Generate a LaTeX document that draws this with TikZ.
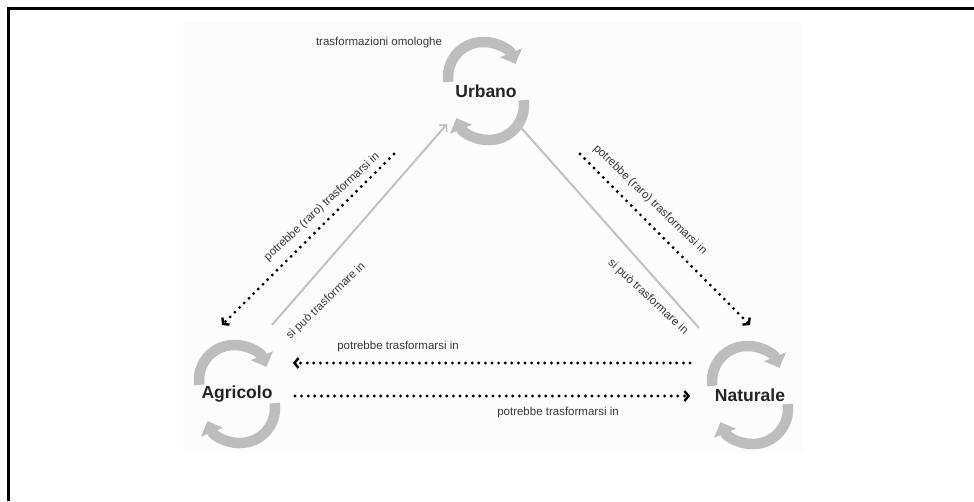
\documentclass[tikz,border=0pt]{standalone}
\usepackage{fontspec}
\setmainfont{Liberation Sans}
\usetikzlibrary{arrows.meta}
\definecolor{cyc}{HTML}{BDBDBD}
\definecolor{gline}{HTML}{C2C2C2}
\definecolor{lbltxt}{HTML}{383838}
\definecolor{nametxt}{HTML}{242424}
\definecolor{panel}{HTML}{FCFCFC}
\newcommand\cycleicon[1]{%
  \draw[cycarc] ([shift={(-3,-14)}]#1) ++(-188:35) arc[start angle=-188,end angle=-22,radius=35];
  \draw[cycarc] ([shift={(3,14)}]#1) ++(-8:35) arc[start angle=-8,end angle=158,radius=35];
}
\begin{document}
\begin{tikzpicture}[x=1pt,y=-1pt,
  place/.style={font=\fontsize{17.5}{20}\selectfont\bfseries, text=nametxt, inner sep=0pt},
  lbl/.style={font=\fontsize{11.5}{13}\selectfont, text=lbltxt, inner sep=0pt},
  dots/.style={line width=3.2pt, line cap=round, dash pattern=on 0pt off 6.6pt,
    -{Straight Barb[length=4pt,width=10pt,line width=2.4pt]}},
  greyline/.style={draw=gline, line width=2pt,
    -{Straight Barb[length=5pt,width=10pt,line width=1.6pt]}},
  cycarc/.style={draw=cyc, line width=10.5pt, -{Triangle[length=12pt,width=23pt]}}
]
\useasboundingbox (0,0) rectangle (974,501);
\fill[white] (0,0) rectangle (974,501);
\fill[panel] (183,22) rectangle (803,453);
\draw[black, line width=2.5pt] (8.5,501) -- (8.5,8.5) -- (974,8.5);

% places
\node[place] (U) at (486,91) {Urbano};
\node[place] (A) at (237,394) {Agricolo};
\node[place] (N) at (750,395) {Naturale};
\cycleicon{U.center}
\cycleicon{A.center}
\cycleicon{N.center}

\node[lbl] (omo) at (379,43) {trasformazioni omologhe};

% connector end points
\coordinate (ul1) at (394,154);
\coordinate (al1) at (222,325);
\coordinate (ag1) at (272,325);
\coordinate (ug1) at (447,124);
\coordinate (ng1) at (699,328);
\coordinate (ug2) at (516,122);
\coordinate (ur1) at (580,154);
\coordinate (nr1) at (750,325);
\coordinate (nh1) at (690,363);
\coordinate (ah1) at (293,363);
\coordinate (ah2) at (295,396);
\coordinate (nh2) at (690,396);

\draw[dots] (ul1) -- (al1);
\draw[greyline] (ag1) -- (ug1);
\draw[greyline] (ng1) -- (ug2);
\draw[dots] (ur1) -- (nr1);
\draw[dots] (nh1) -- (ah1);
\draw[dots] (ah2) -- (nh2);

% labels
\node[lbl, rotate=43] (l1) at (322,207) {potrebbe (raro) trasformarsi in};
\node[lbl, rotate=44] (l2) at (326,301) {si può trasformare in};
\node[lbl, rotate=-44] (l3) at (650,200) {potrebbe (raro) trasformarsi in};
\node[lbl, rotate=-43] (l4) at (648,297) {si può trasformare in};
\node[lbl] (l5) at (398,347) {potrebbe trasformarsi in};
\node[lbl] (l6) at (558,413) {potrebbe trasformarsi in};
\end{tikzpicture}
\end{document}
